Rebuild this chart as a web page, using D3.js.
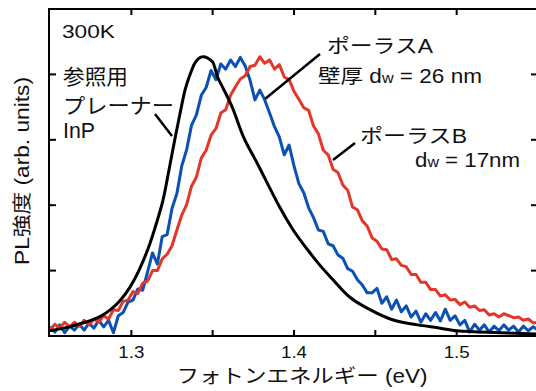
<!DOCTYPE html>
<html>
<head>
<meta charset="utf-8">
<script src="https://cdn.jsdelivr.net/npm/d3@7"></script>
<style>
  body { margin: 0; background: #fff; }
  text { font-family: "Liberation Sans", "Noto Sans CJK JP", sans-serif; fill: #111; }
</style>
</head>
<body>
<svg id="chart" width="536" height="391"></svg>
<script>
// photon energy grid (eV) shared by the two porous samples
var energy = [
  1.250, 1.253, 1.256, 1.259, 1.262, 1.265, 1.268, 1.271, 1.274, 1.277,
  1.280, 1.283, 1.286, 1.289, 1.292, 1.295, 1.298, 1.301, 1.304, 1.307,
  1.310, 1.313, 1.316, 1.319, 1.322, 1.325, 1.328, 1.331, 1.334, 1.337,
  1.340, 1.343, 1.346, 1.349, 1.352, 1.355, 1.358, 1.361, 1.364, 1.367,
  1.370, 1.373, 1.376, 1.379, 1.382, 1.385, 1.388, 1.391, 1.394, 1.397,
  1.400, 1.403, 1.406, 1.409, 1.412, 1.415, 1.418, 1.421, 1.424, 1.427,
  1.430, 1.433, 1.436, 1.439, 1.442, 1.445, 1.448, 1.451, 1.454, 1.457,
  1.460, 1.463, 1.466, 1.469, 1.472, 1.475, 1.478, 1.481, 1.484, 1.487,
  1.490, 1.493, 1.496, 1.499, 1.502, 1.505, 1.508, 1.511, 1.514, 1.517,
  1.520, 1.523, 1.526, 1.529, 1.532, 1.535, 1.538, 1.541, 1.544, 1.547,
  1.550
];

// porous A (dw = 26 nm), blue
var porousA = [
  0.14, 0.06, 0.17, 0.05, 0.15, 0.09, 0.18, 0.09, 0.20, 0.12,
  0.24, 0.14, 0.24, 0.05, 0.31, 0.36, 0.52, 0.55, 0.72, 0.70,
  0.98, 1.27, 1.10, 1.52, 1.55, 1.95, 2.18, 2.60, 2.85, 3.22,
  3.38, 3.68, 3.80, 4.06, 3.92, 4.16, 4.08, 4.22, 4.12, 4.26,
  4.13, 3.91, 3.61, 3.76, 3.61, 3.41, 3.20, 3.04, 2.77, 2.92,
  2.60, 2.33, 2.19, 1.96, 1.81, 1.62, 1.60, 1.41, 1.38, 1.24,
  1.19, 1.03, 0.99, 0.86, 0.78, 0.66, 0.66, 0.73, 0.50, 0.60,
  0.41, 0.55, 0.37, 0.46, 0.29, 0.38, 0.21, 0.34, 0.24, 0.36,
  0.23, 0.41, 0.24, 0.31, 0.17, 0.24, 0.06, 0.18, 0.09, 0.17,
  0.06, 0.15, 0.08, 0.17, 0.09, 0.15, 0.06, 0.15, 0.08, 0.14,
  0.09
];

// porous B (dw = 17 nm), red
var porousB = [
  0.09, 0.18, 0.12, 0.21, 0.14, 0.21, 0.15, 0.24, 0.17, 0.26,
  0.21, 0.31, 0.26, 0.40, 0.39, 0.53, 0.55, 0.68, 0.65, 0.81,
  0.84, 1.00, 1.00, 1.18, 1.25, 1.38, 1.62, 1.85, 2.01, 2.29,
  2.43, 2.72, 2.84, 3.07, 3.17, 3.41, 3.46, 3.68, 3.81, 3.93,
  3.98, 4.12, 4.14, 4.27, 4.17, 4.22, 4.08, 4.15, 3.96, 3.92,
  3.74, 3.62, 3.49, 3.45, 3.21, 3.09, 2.84, 2.77, 2.55, 2.50,
  2.31, 2.23, 1.97, 1.93, 1.76, 1.68, 1.50, 1.45, 1.33, 1.32,
  1.17, 1.18, 1.08, 1.06, 0.94, 0.94, 0.82, 0.82, 0.71, 0.71,
  0.61, 0.63, 0.55, 0.56, 0.48, 0.52, 0.44, 0.46, 0.39, 0.40,
  0.32, 0.34, 0.29, 0.34, 0.31, 0.28, 0.29, 0.24, 0.26, 0.20,
  0.21
];

// reference planar InP, black (smooth)
var planarE = [
  1.250, 1.262, 1.2715, 1.281, 1.287, 1.293, 1.299, 1.305, 1.3115, 1.316,
  1.3195, 1.324, 1.327, 1.330, 1.333, 1.336, 1.339, 1.344, 1.350, 1.353,
  1.356, 1.362, 1.369, 1.377, 1.387, 1.391, 1.399, 1.408, 1.416, 1.424,
  1.434, 1.447, 1.461, 1.476, 1.490, 1.500, 1.527, 1.550
];
var planarI = [
  0.08, 0.14, 0.21, 0.30, 0.40, 0.54, 0.74, 1.02, 1.42, 1.77,
  2.08, 2.65, 3.04, 3.41, 3.76, 3.99, 4.17, 4.27, 4.19, 3.96,
  3.81, 3.50, 3.04, 2.66, 2.17, 1.98, 1.64, 1.33, 1.08, 0.86,
  0.60, 0.40, 0.245, 0.17, 0.12, 0.08, 0.05, 0.03
];

var xTicks = [1.3, 1.35, 1.4, 1.45, 1.5];
var xTickLabels = ["1.3", "1.4", "1.5"];
var yTicks = [1, 2, 3, 4];

var svg = d3.select("#chart");

var x = d3.scaleLinear().domain([1.25, 1.55]).range([50, 538]);
var y = d3.scaleLinear().domain([0, 5]).range([336, 9]);

svg.append("defs").append("clipPath").attr("id", "plotclip")
  .append("rect").attr("x", 50).attr("y", 9).attr("width", 488).attr("height", 327);

var plot = svg.append("g").attr("clip-path", "url(#plotclip)");

function series(xs, ys) {
  return xs.map(function (e, i) { return [e, ys[i]]; });
}

var line = d3.line()
  .x(function (d) { return x(d[0]); })
  .y(function (d) { return y(d[1]); });

var smooth = d3.line()
  .curve(d3.curveMonotoneX)
  .x(function (d) { return x(d[0]); })
  .y(function (d) { return y(d[1]); });

plot.append("path").datum(series(energy, porousA))
  .attr("d", line).attr("fill", "none")
  .attr("stroke", "#0b50b4").attr("stroke-width", 3).attr("stroke-linejoin", "round");

plot.append("path").datum(series(energy, porousB))
  .attr("d", line).attr("fill", "none")
  .attr("stroke", "#e2372a").attr("stroke-width", 3).attr("stroke-linejoin", "round");

plot.append("path").datum(series(planarE, planarI))
  .attr("d", smooth).attr("fill", "none")
  .attr("stroke", "#000").attr("stroke-width", 3);

// frame
svg.append("rect")
  .attr("x", 49).attr("y", 9).attr("width", 489).attr("height", 327)
  .attr("fill", "none").attr("stroke", "#000").attr("stroke-width", 2);

// inward ticks on all four sides
var ticks = svg.append("g").attr("stroke", "#000").attr("stroke-width", 2);
xTicks.forEach(function (t) {
  ticks.append("line").attr("x1", x(t)).attr("x2", x(t)).attr("y1", 336).attr("y2", 330);
  ticks.append("line").attr("x1", x(t)).attr("x2", x(t)).attr("y1", 9).attr("y2", 15);
});
yTicks.forEach(function (t) {
  ticks.append("line").attr("x1", 49).attr("x2", 56).attr("y1", y(t)).attr("y2", y(t));
  ticks.append("line").attr("x1", 538).attr("x2", 531).attr("y1", y(t)).attr("y2", y(t));
});

svg.selectAll(".xlab").data(xTickLabels).enter().append("text")
  .attr("class", "xlab")
  .attr("x", function (d) { return x(+d); })
  .attr("y", 358)
  .attr("text-anchor", "middle")
  .attr("font-size", 16.5)
  .attr("textLength", 26).attr("lengthAdjust", "spacingAndGlyphs")
  .text(function (d) { return d; });

// axis titles
svg.append("text")
  .attr("x", 302).attr("y", 383)
  .attr("text-anchor", "middle").attr("font-size", 19.5)
  .attr("textLength", 251).attr("lengthAdjust", "spacingAndGlyphs")
  .text("フォトンエネルギー (eV)");

svg.append("text")
  .attr("transform", "translate(29,171) rotate(-90)")
  .attr("text-anchor", "middle").attr("font-size", 19.5)
  .attr("textLength", 188).attr("lengthAdjust", "spacingAndGlyphs")
  .text("PL強度 (arb. units)");

// annotations
function label(tx, ty, w, size, str) {
  return svg.append("text").attr("x", tx).attr("y", ty)
    .attr("font-size", size)
    .attr("textLength", w).attr("lengthAdjust", "spacingAndGlyphs")
    .text(str);
}
label(62, 38, 53, 18.5, "300K");
label(63, 84, 65, 21, "参照用");
label(63, 113, 111, 21, "プレーナー");
label(63, 138, 32, 22, "InP");
label(327, 53, 106, 19.5, "ポーラスA");
label(360, 143, 107, 19.5, "ポーラスB");

var tA = svg.append("text").attr("x", 318).attr("y", 83).attr("font-size", 19.5)
  .attr("textLength", 164).attr("lengthAdjust", "spacingAndGlyphs");
tA.append("tspan").text("壁厚 d");
tA.append("tspan").attr("font-size", 14).text("w");
tA.append("tspan").text(" = 26 nm");

var tB = svg.append("text").attr("x", 415).attr("y", 167).attr("font-size", 19.5)
  .attr("textLength", 105).attr("lengthAdjust", "spacingAndGlyphs");
tB.append("tspan").text("d");
tB.append("tspan").attr("font-size", 14).text("w");
tB.append("tspan").text(" = 17nm");

var leaders = svg.append("g").attr("stroke", "#000").attr("stroke-width", 2.5);
leaders.append("line").attr("x1", 155).attr("y1", 114).attr("x2", 172).attr("y2", 136);
leaders.append("line").attr("x1", 320).attr("y1", 54).attr("x2", 265).attr("y2", 99);
leaders.append("line").attr("x1", 355).attr("y1", 143).attr("x2", 333).attr("y2", 160);
</script>
</body>
</html>
